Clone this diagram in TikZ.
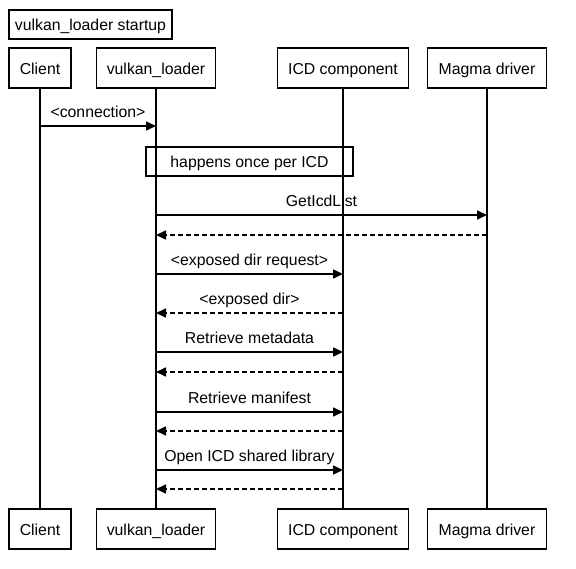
\documentclass[tikz,border=0pt]{standalone}
\usepackage{fontspec}
\setmainfont{Liberation Sans}
\usetikzlibrary{arrows.meta}
\begin{document}
\begin{tikzpicture}[x=1pt,y=-1pt,font=\fontsize{15.8}{18}\selectfont,
  box/.style={draw,line width=1.6pt,inner sep=0pt,minimum height=40pt,text height=13pt,text depth=0.5pt},
  life/.style={line width=1.8pt},
  msg/.style={line width=1.6pt,-{Triangle[length=10pt,width=9pt]}},
  ret/.style={msg,dash pattern=on 5pt off 3pt},
  lbl/.style={above=5pt,inner sep=0pt,text height=11pt,text depth=3pt}]
\useasboundingbox (0,0) rectangle (576,569);
% title
\node[box,minimum width=163pt,minimum height=29pt] (title) at (90.5,24.5) {vulkan\_loader startup};
% participants top
\node[box,minimum width=62pt]  (cT) at (40,68)  {Client};
\node[box,minimum width=119pt] (vT) at (156,68) {vulkan\_loader};
\node[box,minimum width=131pt] (iT) at (343,68) {ICD component};
\node[box,minimum width=119pt] (mT) at (487,68) {Magma driver};
% participants bottom
\node[box,minimum width=62pt]  (cB) at (40,529)  {Client};
\node[box,minimum width=119pt] (vB) at (156,529) {vulkan\_loader};
\node[box,minimum width=131pt] (iB) at (343,529) {ICD component};
\node[box,minimum width=119pt] (mB) at (487,529) {Magma driver};
% lifelines
\draw[life] (cT) -- (cB);
\draw[life] (vT) -- (vB);
\draw[life] (iT) -- (iB);
\draw[life] (mT) -- (mB);
% note
\node[box,minimum width=207pt,minimum height=29pt] (note) at (249.5,161.5) {happens once per ICD};
% message endpoints
\coordinate (c1) at (cT |- 0,126); \coordinate (v1) at (vT |- 0,126);
\coordinate (v2) at (vT |- 0,215); \coordinate (m2) at (mT |- 0,215);
\coordinate (v3) at (vT |- 0,235); \coordinate (m3) at (mT |- 0,235);
\coordinate (v4) at (vT |- 0,274); \coordinate (i4) at (iT |- 0,274);
\coordinate (v5) at (vT |- 0,313); \coordinate (i5) at (iT |- 0,313);
\coordinate (v6) at (vT |- 0,352); \coordinate (i6) at (iT |- 0,352);
\coordinate (v7) at (vT |- 0,372); \coordinate (i7) at (iT |- 0,372);
\coordinate (v8) at (vT |- 0,412); \coordinate (i8) at (iT |- 0,412);
\coordinate (v9) at (vT |- 0,431); \coordinate (i9) at (iT |- 0,431);
\coordinate (v10) at (vT |- 0,470); \coordinate (i10) at (iT |- 0,470);
\coordinate (v11) at (vT |- 0,489); \coordinate (i11) at (iT |- 0,489);
% messages
\draw[msg] (c1) -- node[lbl] (l1) {<connection>} (v1);
\draw[msg] (v2) -- node[lbl] (l2) {GetIcdList} (m2);
\draw[ret] (m3) -- (v3);
\draw[msg] (v4) -- node[lbl] (l4) {<exposed dir request>} (i4);
\draw[ret] (i5) -- node[lbl] (l5) {<exposed dir>} (v5);
\draw[msg] (v6) -- node[lbl] (l6) {Retrieve metadata} (i6);
\draw[ret] (i7) -- (v7);
\draw[msg] (v8) -- node[lbl] (l8) {Retrieve manifest} (i8);
\draw[ret] (i9) -- (v9);
\draw[msg] (v10) -- node[lbl] (l10) {Open ICD shared library} (i10);
\draw[ret] (i11) -- (v11);
\end{tikzpicture}
\end{document}
